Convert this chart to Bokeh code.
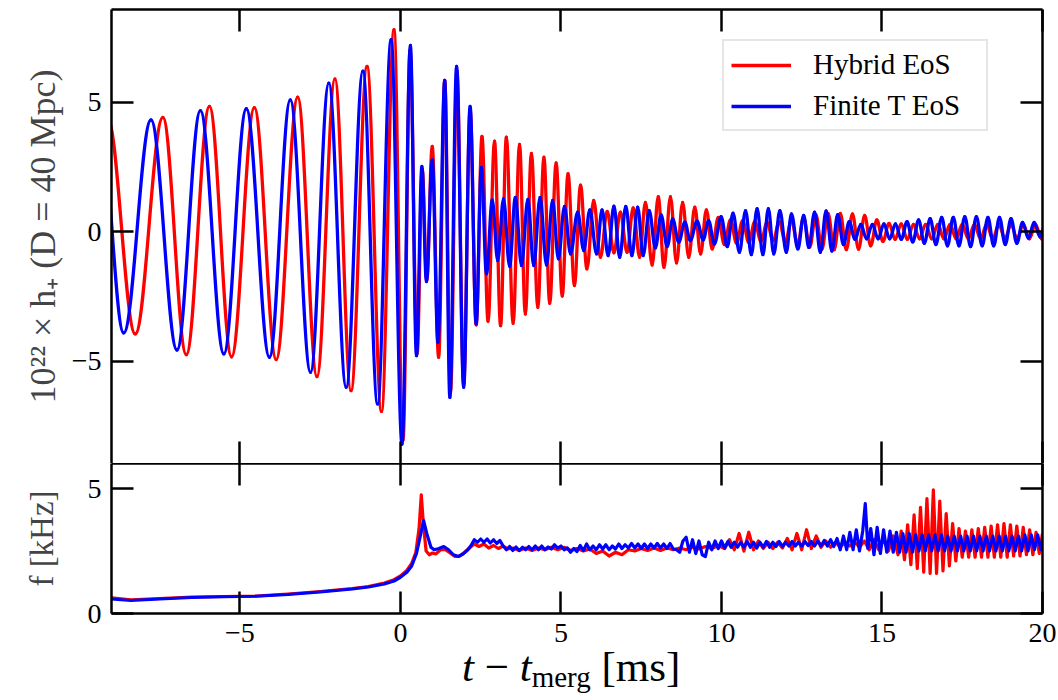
from bokeh.plotting import figure
from bokeh.models import (ColumnDataSource, LinearAxis, FixedTicker, Legend,
                          LegendItem, Range1d, Div, CustomJSTickFormatter)
from bokeh.layouts import column
from bokeh.embed import file_html
from bokeh.resources import INLINE

FONT = "Liberation Serif"
RED = "#ff0000"
BLUE = "#0000ff"

# ---------------- strain h+ : extrema ----------------
T_HYB = [-9.12, -8.26, -7.40, -6.67, -5.95, -5.26, -4.55, -3.87, -3.20, -2.60,
         -2.04, -1.54, -1.04, -0.59, -0.20, 0.08, 0.30, 0.52, 0.68, 0.82,
         0.99, 1.19, 1.38, 1.56, 1.76, 1.97, 2.17, 2.36, 2.54, 2.73,
         2.93, 3.12, 3.30, 3.51, 3.71, 3.89, 4.08, 4.28, 4.47, 4.65,
         4.85, 5.04, 5.22, 5.42, 5.61, 5.81, 6.02, 6.23, 6.44, 6.65,
         6.85, 7.06, 7.25, 7.45, 7.63, 7.84, 8.03, 8.21, 8.41, 8.60,
         8.79, 8.98, 9.17, 9.35, 9.53, 9.71, 9.90, 10.09, 10.28, 10.47,
         10.66, 10.85, 11.04, 11.23, 11.42, 11.61, 11.80, 11.99, 12.18, 12.37,
         12.56, 12.75, 12.94, 13.13, 13.32, 13.51, 13.70, 13.89, 14.08, 14.27,
         14.46, 14.65, 14.84, 15.03, 15.22, 15.41, 15.60, 15.79, 15.98, 16.17,
         16.36, 16.55, 16.74, 16.93, 17.12, 17.31, 17.50, 17.69, 17.88, 18.07,
         18.26, 18.45, 18.64, 18.83, 19.02, 19.21, 19.40, 19.59, 19.78, 19.97,
         20.16]
H_HYB = [4.35, -3.95, 4.41, -4.75, 4.83, -4.83, 4.78, -4.94, 5.19, -5.60,
         5.89, -6.14, 6.37, -6.94, 7.79, -8.04, 7.00, -4.70, 2.40, -1.90,
         3.29, -4.85, 5.83, -6.20, 6.20, -5.90, 4.70, -3.60, 3.67, -3.46,
         3.49, -3.63, 3.64, -3.54, 3.36, -3.18, 3.02, -2.92, 2.87, -2.77,
         2.65, -2.49, 2.24, -2.08, 1.79, -1.44, 1.20, -0.99, 0.78, -0.82,
         0.75, -0.80, 0.91, -0.99, 1.13, -1.29, 1.35, -1.38, 1.35, -1.21,
         1.13, -0.99, 0.94, -0.86, 0.84, -0.67, 0.55, -0.50, 0.45, -0.45,
         0.42, -0.42, 0.38, -0.38, 0.35, -0.35, 0.38, -0.40, 0.45, -0.50,
         0.55, -0.60, 0.65, -0.68, 0.70, -0.70, 0.70, -0.70, 0.68, -0.68,
         0.62, -0.55, 0.45, -0.38, 0.32, -0.30, 0.30, -0.30, 0.28, -0.28,
         0.28, -0.28, 0.28, -0.28, 0.28, -0.28, 0.28, -0.28, 0.28, -0.28,
         0.28, -0.28, 0.28, -0.28, 0.28, -0.28, 0.28, -0.28, 0.28, -0.28,
         0.28]

T_FIN = [-9.35, -8.62, -7.77, -6.96, -6.23, -5.50, -4.80, -4.08, -3.43, -2.80,
         -2.23, -1.69, -1.17, -0.71, -0.29, 0.05, 0.31, 0.50, 0.67, 0.81,
         0.99, 1.17, 1.38, 1.54, 1.75, 1.97, 2.17, 2.36, 2.52, 2.68,
         2.86, 3.03, 3.21, 3.40, 3.58, 3.77, 3.97, 4.15, 4.35, 4.55,
         4.74, 4.92, 5.11, 5.30, 5.52, 5.71, 5.90, 6.11, 6.28, 6.47,
         6.65, 6.83, 7.02, 7.21, 7.39, 7.56, 7.75, 7.94, 8.12, 8.31,
         8.48, 8.67, 8.86, 9.03, 9.24, 9.43, 9.60, 9.78, 9.99, 10.18,
         10.36, 10.56, 10.75, 10.93, 11.11, 11.29, 11.46, 11.63, 11.82, 12.02,
         12.18, 12.38, 12.56, 12.72, 12.90, 13.08, 13.26, 13.44, 13.62, 13.80,
         13.98, 14.16, 14.34, 14.52, 14.70, 14.88, 15.06, 15.24, 15.42, 15.60,
         15.78, 15.96, 16.14, 16.32, 16.50, 16.68, 16.86, 17.04, 17.22, 17.40,
         17.58, 17.76, 17.94, 18.12, 18.30, 18.48, 18.66, 18.84, 19.02, 19.20,
         19.38, 19.56, 19.74, 19.92, 20.10]
H_FIN = [4.10, -3.91, 4.31, -4.57, 4.67, -4.72, 4.74, -4.85, 5.08, -5.43,
         5.73, -6.01, 6.19, -6.65, 7.41, -8.20, 7.18, -4.79, 2.52, -1.93,
         2.77, -4.27, 5.83, -6.40, 6.37, -6.01, 4.83, -3.56, 2.48, -1.63,
         1.22, -1.12, 1.26, -1.34, 1.32, -1.31, 1.24, -1.31, 1.32, -1.29,
         1.20, -1.05, 0.97, -0.86, 0.75, -0.73, 0.84, -0.86, 0.84, -0.93,
         0.98, -0.99, 0.97, -0.93, 0.94, -0.93, 0.81, -0.63, 0.64, -0.58,
         0.49, -0.41, 0.36, -0.35, 0.40, -0.32, 0.42, -0.48, 0.58, -0.58,
         0.71, -0.80, 0.81, -0.89, 0.88, -0.89, 0.88, -0.86, 0.81, -0.80,
         0.68, -0.67, 0.62, -0.61, 0.75, -0.80, 0.80, -0.75, 0.65, -0.50,
         0.38, -0.30, 0.28, -0.28, 0.28, -0.28, 0.30, -0.28, 0.30, -0.30,
         0.38, -0.40, 0.45, -0.45, 0.50, -0.50, 0.55, -0.55, 0.55, -0.55,
         0.58, -0.58, 0.58, -0.55, 0.55, -0.55, 0.55, -0.50, 0.50, -0.45,
         0.35, -0.25, 0.35, -0.20, 0.30]

# ---------------- instantaneous frequency [kHz] ----------------
FT_HYB = [-9.00, -8.40, -7.50, -6.50, -5.50, -4.50, -3.50, -2.50, -1.50, -1.00,
          -0.50, -0.20, 0.00, 0.20, 0.35, 0.48, 0.58, 0.65, 0.72, 0.80,
          0.90, 1.00, 1.10, 1.25, 1.40, 1.55, 1.70, 1.85, 2.00, 2.15,
          2.30, 2.45, 2.60, 2.75, 2.90, 3.05, 3.20, 3.35, 3.50, 3.70,
          3.90, 4.10, 4.30, 4.50, 4.70, 4.90, 5.10, 5.30, 5.50, 5.70,
          5.90, 6.10, 6.30, 6.50, 6.70, 6.90, 7.10, 7.30, 7.50, 7.70,
          7.90, 8.10, 8.30, 8.50, 8.70, 8.90, 9.10, 9.30, 9.50, 9.70,
          9.90, 10.10, 10.25, 10.40, 10.55, 10.70, 10.85, 11.00, 11.15, 11.30,
          11.45, 11.60, 11.75, 11.90, 12.05, 12.20, 12.35, 12.50, 12.65, 12.80,
          12.95, 13.10, 13.25, 13.40, 13.55, 13.70, 13.85, 14.00, 14.15, 14.30,
          14.45, 14.60, 14.75, 14.90, 15.05, 15.20, 15.35, 15.50, 15.60, 15.70,
          15.80, 15.90, 16.00, 16.10, 16.20, 16.30, 16.40, 16.50, 16.60, 16.70,
          16.80, 16.90, 17.00, 17.10, 17.20, 17.30, 17.40, 17.50, 17.60, 17.70,
          17.80, 17.90, 18.00, 18.10, 18.20, 18.30, 18.40, 18.50, 18.60, 18.70,
          18.80, 18.90, 19.00, 19.10, 19.20, 19.30, 19.40, 19.50, 19.60, 19.70,
          19.80, 19.90, 20.00]
F_HYB = [0.63, 0.55, 0.60, 0.66, 0.68, 0.70, 0.78, 0.88, 1.00, 1.08,
         1.22, 1.35, 1.50, 1.72, 2.00, 2.45, 3.40, 4.75, 3.50, 2.50,
         2.35, 2.42, 2.38, 2.55, 2.55, 2.42, 2.28, 2.30, 2.45, 2.62,
         2.78, 2.68, 2.78, 2.62, 2.72, 2.60, 2.70, 2.58, 2.62, 2.52,
         2.62, 2.52, 2.62, 2.55, 2.65, 2.55, 2.65, 2.52, 2.60, 2.50,
         2.58, 2.40, 2.50, 2.30, 2.45, 2.35, 2.55, 2.50, 2.60, 2.52,
         2.62, 2.52, 2.62, 2.55, 2.62, 2.55, 2.65, 2.58, 2.68, 2.60,
         2.72, 2.60, 2.95, 2.55, 3.20, 2.50, 3.25, 2.55, 2.90, 2.60,
         2.85, 2.60, 2.85, 2.62, 3.00, 2.55, 3.20, 2.55, 3.35, 2.60,
         3.10, 2.65, 2.90, 2.65, 2.85, 2.65, 2.85, 2.70, 2.85, 2.65,
         2.90, 2.55, 2.95, 2.55, 2.95, 2.50, 3.10, 2.35, 3.30, 2.15,
         3.55, 1.95, 3.95, 1.80, 4.25, 1.65, 4.60, 1.60, 4.95, 1.60,
         4.50, 1.70, 4.00, 1.90, 3.60, 2.10, 3.40, 2.25, 3.30, 2.25,
         3.35, 2.25, 3.40, 2.25, 3.45, 2.25, 3.50, 2.25, 3.55, 2.25,
         3.60, 2.25, 3.55, 2.30, 3.50, 2.30, 3.45, 2.35, 3.35, 2.35,
         3.25, 2.40, 3.20]

FT_FIN = [-9.00, -8.40, -7.50, -6.50, -5.50, -4.50, -3.50, -2.50, -1.50, -1.00,
          -0.50, -0.20, 0.00, 0.20, 0.35, 0.50, 0.62, 0.72, 0.82, 0.95,
          1.05, 1.20, 1.35, 1.50, 1.65, 1.80, 1.95, 2.10, 2.20, 2.30,
          2.40, 2.50, 2.60, 2.70, 2.80, 2.90, 3.00, 3.10, 3.20, 3.30,
          3.40, 3.50, 3.60, 3.70, 3.80, 3.90, 4.00, 4.10, 4.20, 4.30,
          4.40, 4.50, 4.60, 4.70, 4.80, 4.90, 5.00, 5.10, 5.20, 5.30,
          5.40, 5.50, 5.60, 5.70, 5.80, 5.90, 6.00, 6.10, 6.20, 6.30,
          6.40, 6.50, 6.60, 6.70, 6.80, 6.90, 7.00, 7.10, 7.20, 7.30,
          7.40, 7.50, 7.60, 7.70, 7.80, 7.90, 8.00, 8.10, 8.20, 8.30,
          8.40, 8.50, 8.60, 8.70, 8.80, 8.90, 9.00, 9.10, 9.20, 9.30,
          9.40, 9.50, 9.60, 9.70, 9.80, 9.90, 10.00, 10.10, 10.20, 10.30,
          10.40, 10.50, 10.60, 10.70, 10.80, 10.90, 11.00, 11.10, 11.20, 11.30,
          11.40, 11.50, 11.60, 11.70, 11.80, 11.90, 12.00, 12.10, 12.20, 12.30,
          12.40, 12.50, 12.60, 12.70, 12.80, 12.90, 13.00, 13.10, 13.20, 13.30,
          13.40, 13.50, 13.60, 13.70, 13.80, 13.90, 14.00, 14.10, 14.20, 14.30,
          14.40, 14.48, 14.56, 14.65, 14.75, 14.85, 14.95, 15.05, 15.15, 15.25,
          15.35, 15.45, 15.55, 15.65, 15.75, 15.85, 15.95, 16.05, 16.15, 16.25,
          16.35, 16.45, 16.55, 16.65, 16.75, 16.85, 16.95, 17.05, 17.15, 17.25,
          17.35, 17.45, 17.55, 17.65, 17.75, 17.85, 17.95, 18.05, 18.15, 18.25,
          18.35, 18.45, 18.55, 18.65, 18.75, 18.85, 18.95, 19.05, 19.15, 19.25,
          19.35, 19.45, 19.55, 19.65, 19.75, 19.85, 19.95, 20.05]
F_FIN = [0.58, 0.52, 0.58, 0.64, 0.67, 0.69, 0.76, 0.86, 0.98, 1.06,
         1.18, 1.30, 1.45, 1.65, 1.90, 2.40, 3.10, 3.72, 3.20, 2.65,
         2.55, 2.60, 2.68, 2.55, 2.35, 2.28, 2.38, 2.55, 2.72, 2.95,
         2.85, 2.98, 2.85, 2.98, 2.82, 2.95, 2.80, 2.92, 2.70, 2.55,
         2.68, 2.52, 2.66, 2.52, 2.65, 2.55, 2.68, 2.55, 2.70, 2.55,
         2.70, 2.55, 2.66, 2.58, 2.75, 2.62, 2.70, 2.55, 2.62, 2.45,
         2.60, 2.48, 2.72, 2.52, 2.78, 2.55, 2.70, 2.55, 2.75, 2.58,
         2.75, 2.55, 2.70, 2.58, 2.78, 2.60, 2.75, 2.62, 2.80, 2.62,
         2.78, 2.60, 2.78, 2.60, 2.78, 2.62, 2.80, 2.62, 2.78, 2.60,
         2.80, 2.58, 2.55, 2.45, 2.90, 3.05, 2.45, 2.95, 2.40, 2.90,
         2.35, 2.28, 2.85, 2.55, 2.90, 2.60, 2.90, 2.62, 2.88, 2.65,
         2.85, 2.65, 2.85, 2.65, 2.88, 2.65, 2.85, 2.62, 2.85, 2.65,
         2.88, 2.65, 2.85, 2.68, 2.88, 2.68, 2.85, 2.70, 2.88, 2.70,
         2.85, 2.70, 2.88, 2.72, 2.88, 2.70, 2.90, 2.70, 2.92, 2.70,
         2.95, 2.68, 3.00, 2.55, 3.10, 2.55, 3.25, 2.55, 3.35, 2.50,
         3.30, 4.40, 2.60, 3.40, 2.35, 3.45, 2.40, 3.35, 2.45, 3.30,
         2.45, 3.25, 2.45, 3.20, 2.45, 3.20, 2.45, 3.15, 2.50, 3.15,
         2.50, 3.15, 2.50, 3.15, 2.50, 3.15, 2.50, 3.10, 2.50, 3.10,
         2.50, 3.10, 2.50, 3.10, 2.50, 3.10, 2.50, 3.10, 2.50, 3.10,
         2.50, 3.10, 2.50, 3.10, 2.50, 3.10, 2.50, 3.10, 2.50, 3.10,
         2.50, 3.15, 2.50, 3.15, 2.55, 3.15, 2.55, 3.20]

X_TICKS = [-5, 0, 5, 10, 15, 20]
H_TICKS = [-5, 0, 5]
F_TICKS = [0, 5]
LABELS = ["Hybrid EoS", "Finite T EoS"]


def smooth_source(t, h, k=0.364):
    """Cubic Bezier segments between consecutive extrema (horizontal tangents)."""
    d = dict(x0=[], y0=[], x1=[], y1=[], cx0=[], cy0=[], cx1=[], cy1=[])
    for i in range(len(t) - 1):
        a, b, ya, yb = t[i], t[i + 1], h[i], h[i + 1]
        w = b - a
        d["x0"].append(a); d["y0"].append(ya)
        d["x1"].append(b); d["y1"].append(yb)
        d["cx0"].append(a + k * w); d["cy0"].append(ya)
        d["cx1"].append(b - k * w); d["cy1"].append(yb)
    return ColumnDataSource(d)


def style_axis(ax, ticks, show_labels, overrides=None, line=True):
    ax.ticker = FixedTicker(ticks=ticks)
    ax.major_tick_in = 22
    ax.major_tick_out = 0
    ax.minor_tick_in = 0
    ax.minor_tick_out = 0
    ax.major_tick_line_width = 2.5
    ax.major_tick_line_color = "black"
    ax.axis_line_width = 2.5
    ax.axis_line_color = "black" if line else None
    if show_labels:
        ax.major_label_text_font = FONT
        ax.major_label_text_font_size = "28px"
        ax.major_label_text_color = "black"
        ax.major_label_standoff = 10
        if overrides:
            ax.major_label_overrides = overrides
    else:
        ax.formatter = CustomJSTickFormatter(code="return ''")
        ax.major_label_text_font_size = "1px"
        ax.major_label_standoff = 0


x_range = Range1d(-9, 20)

# ---------------- top panel ----------------
p1 = figure(frame_width=931, frame_height=454, min_border_left=111,
            min_border_right=16, min_border_top=9, min_border_bottom=0,
            x_range=x_range, y_range=Range1d(-8.95, 8.57),
            output_backend="svg", toolbar_location=None)
p1.grid.visible = False
p1.outline_line_color = None
p1.background_fill_color = "white"
p1.border_fill_color = "white"

style_axis(p1.xaxis[0], X_TICKS, False, line=False)
style_axis(p1.yaxis[0], H_TICKS, True, {-5: "\u22125", 0: "0", 5: "5"})
p1.yaxis[0].axis_label = "10\u00b2\u00b2 \u00d7 h\u208a (D = 40 Mpc)"
p1.yaxis[0].axis_label_text_font = FONT
p1.yaxis[0].axis_label_text_font_size = "36px"
p1.yaxis[0].axis_label_text_font_style = "normal"
p1.yaxis[0].axis_label_standoff = 6
ax_r1 = LinearAxis(); style_axis(ax_r1, H_TICKS, False)
ax_t1 = LinearAxis(); style_axis(ax_t1, X_TICKS, False)
p1.add_layout(ax_r1, "right")
p1.add_layout(ax_t1, "above")

src_h = smooth_source(T_HYB, H_HYB)
src_f = smooth_source(T_FIN, H_FIN)
for src, col in ((src_h, RED), (src_f, BLUE)):
    p1.bezier(x0="x0", y0="y0", x1="x1", y1="y1", cx0="cx0", cy0="cy0",
              cx1="cx1", cy1="cy1", source=src, line_color=col,
              line_width=3.3, line_cap="round", line_join="round")

# legend swatches (one off-frame point each, nothing visible in the frame)
leg_r = p1.line(x=T_HYB[:1], y=H_HYB[:1], line_color=RED, line_width=3.3)
leg_b = p1.line(x=T_FIN[:1], y=H_FIN[:1], line_color=BLUE, line_width=3.3)
legend = Legend(items=[LegendItem(label=LABELS[0], renderers=[leg_r]),
                       LegendItem(label=LABELS[1], renderers=[leg_b])],
                location=(611, 332))
legend.label_text_font = FONT
legend.label_text_font_size = "29px"
legend.label_text_color = "black"
legend.glyph_width = 60
legend.glyph_height = 32
legend.label_height = 32
legend.label_width = 166
legend.label_standoff = 22
legend.spacing = 8
legend.padding = 7
legend.margin = 0
legend.border_line_color = "#cccccc"
legend.border_line_width = 2
legend.background_fill_color = "white"
legend.background_fill_alpha = 1.0
p1.add_layout(legend)

# ---------------- bottom panel ----------------
p2 = figure(frame_width=931, frame_height=150, min_border_left=111,
            min_border_right=16, min_border_top=0, min_border_bottom=40,
            x_range=x_range, y_range=Range1d(0, 6),
            output_backend="svg", toolbar_location=None)
p2.grid.visible = False
p2.outline_line_color = None
p2.background_fill_color = "white"
p2.border_fill_color = "white"

style_axis(p2.xaxis[0], X_TICKS, True,
           {-5: "\u22125", 0: "0", 5: "5", 10: "10", 15: "15", 20: "20"})
style_axis(p2.yaxis[0], F_TICKS, True)
p2.yaxis[0].axis_label = "f [kHz]"
p2.yaxis[0].axis_label_text_font = FONT
p2.yaxis[0].axis_label_text_font_size = "33px"
p2.yaxis[0].axis_label_text_font_style = "normal"
p2.yaxis[0].axis_label_standoff = 25
ax_r2 = LinearAxis(); style_axis(ax_r2, F_TICKS, False)
ax_t2 = LinearAxis(); style_axis(ax_t2, X_TICKS, False)
p2.add_layout(ax_r2, "right")
p2.add_layout(ax_t2, "above")

p2.line(FT_HYB, F_HYB, line_color=RED, line_width=3.2, line_join="round")
p2.line(FT_FIN, F_FIN, line_color=BLUE, line_width=3.2, line_join="round")

# x-axis label  t - t_merg [ms]
xlabel = Div(
    text=("<div style=\"font-family:'Liberation Serif'; font-size:43px; "
          "line-height:38px; white-space:nowrap; color:black; "
          "position:relative; top:-5px\">"
          "<i>t</i> \u2212 <i>t</i><span style=\"font-size:29px; "
          "position:relative; top:6px\">merg</span> [ms]</div>"),
    width=1058, height=42,
    styles={"padding-left": "462px", "margin": "0px", "overflow": "visible"})

layout = column(p1, p2, xlabel, spacing=0)
open("out.html", "w").write(file_html(layout, INLINE))
